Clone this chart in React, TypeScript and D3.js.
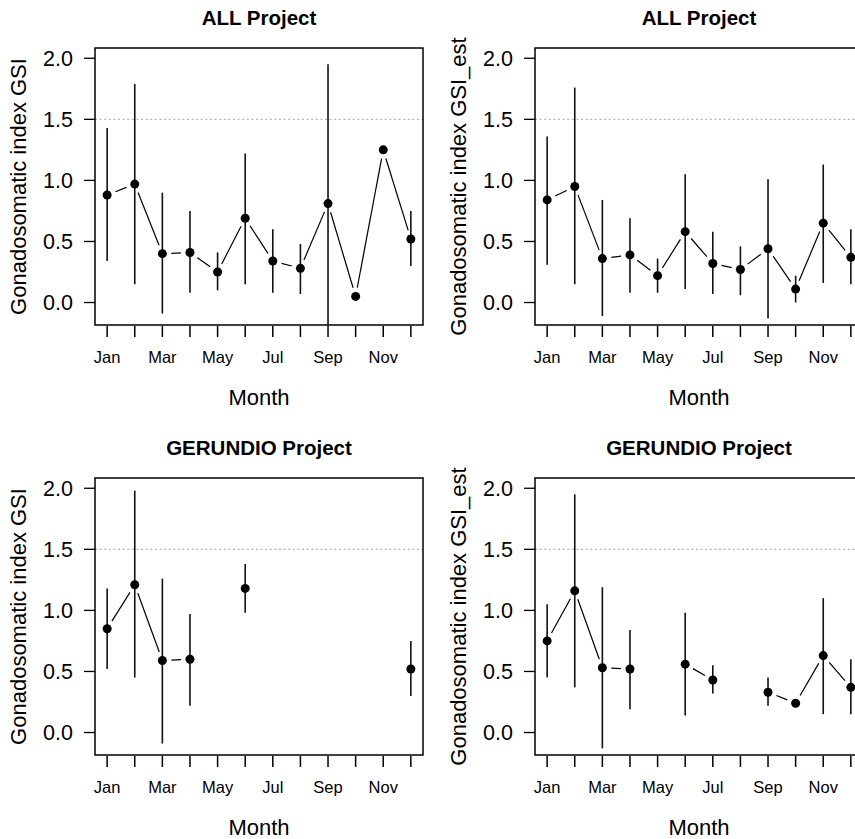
import React from 'react';
import * as d3 from 'd3';

// month labels (only odd months get a label, like R drops overlapping ones)
const months = ['Jan', 'Feb', 'Mar', 'Apr', 'May', 'Jun', 'Jul', 'Aug', 'Sep', 'Oct', 'Nov', 'Dec'];
const yTicks = [0, 0.5, 1, 1.5, 2];

// ALL project, GSI
const allGsi = [0.88, 0.97, 0.4, 0.41, 0.25, 0.69, 0.34, 0.28, 0.81, 0.05, 1.25, 0.52];
const allGsiLo = [0.34, 0.15, -0.09, 0.08, 0.1, 0.15, 0.08, 0.07, -0.33, null, null, 0.3];
const allGsiHi = [1.43, 1.79, 0.9, 0.75, 0.41, 1.22, 0.6, 0.48, 1.95, null, null, 0.75];

// ALL project, GSI_est
const allEst = [0.84, 0.95, 0.36, 0.39, 0.22, 0.58, 0.32, 0.27, 0.44, 0.11, 0.65, 0.37];
const allEstLo = [0.31, 0.15, -0.11, 0.08, 0.08, 0.11, 0.07, 0.06, -0.13, 0.0, 0.16, 0.15];
const allEstHi = [1.36, 1.76, 0.84, 0.69, 0.36, 1.05, 0.58, 0.46, 1.01, 0.22, 1.13, 0.6];

// GERUNDIO project, GSI
const gerGsi = [0.85, 1.21, 0.59, 0.6, null, 1.18, null, null, null, null, null, 0.52];
const gerGsiLo = [0.52, 0.45, -0.09, 0.22, null, 0.98, null, null, null, null, null, 0.3];
const gerGsiHi = [1.18, 1.98, 1.26, 0.97, null, 1.38, null, null, null, null, null, 0.75];

// GERUNDIO project, GSI_est
const gerEst = [0.75, 1.16, 0.53, 0.52, null, 0.56, 0.43, null, 0.33, 0.24, 0.63, 0.37];
const gerEstLo = [0.45, 0.37, -0.13, 0.19, null, 0.14, 0.32, null, 0.22, null, 0.15, 0.15];
const gerEstHi = [1.05, 1.95, 1.19, 0.84, null, 0.98, 0.55, null, 0.45, null, 1.1, 0.6];

const panels = [
  { title: 'ALL Project', ylab: 'Gonadosomatic index GSI', mean: allGsi, lo: allGsiLo, hi: allGsiHi },
  { title: 'ALL Project', ylab: 'Gonadosomatic index GSI_est', mean: allEst, lo: allEstLo, hi: allEstHi },
  { title: 'GERUNDIO Project', ylab: 'Gonadosomatic index GSI', mean: gerGsi, lo: gerGsiLo, hi: gerGsiHi },
  { title: 'GERUNDIO Project', ylab: 'Gonadosomatic index GSI_est', mean: gerEst, lo: gerEstLo, hi: gerEstHi },
];

const font = '"Liberation Sans", Arial, sans-serif';
const boxW = 328;
const boxH = 277;
const gap = 9;

const Panel = ({ p, idx }) => {
  const col = idx % 2;
  const row = Math.floor(idx / 2);
  const left = 95 + 440 * col;
  const top = 48 + 430 * row;

  const x = d3.scaleLinear().domain([0.56, 12.44]).range([0, boxW]);
  const y = d3.scaleLinear().domain([-0.184, 2.084]).range([boxH, 0]);
  const fmt = d3.format('.1f');
  const clipId = `clip-${idx}`;

  // type="b" style: segments between neighbours, with a gap around each point
  const segs = [];
  for (let i = 0; i < 11; i++) {
    if (p.mean[i] == null || p.mean[i + 1] == null) continue;
    const x1 = x(i + 1), y1 = y(p.mean[i]);
    const x2 = x(i + 2), y2 = y(p.mean[i + 1]);
    const dx = x2 - x1, dy = y2 - y1;
    const len = Math.sqrt(dx * dx + dy * dy);
    if (len <= 2 * gap) continue;
    const ux = dx / len, uy = dy / len;
    segs.push(
      <line key={i} x1={x1 + ux * gap} y1={y1 + uy * gap} x2={x2 - ux * gap} y2={y2 - uy * gap}
        stroke="#000" strokeWidth={1.2} />
    );
  }

  return (
    <g transform={`translate(${left},${top})`}>
      <defs>
        <clipPath id={clipId}>
          <rect x={0} y={0} width={boxW} height={boxH} />
        </clipPath>
      </defs>
      <text x={boxW / 2} y={-23} textAnchor="middle" fontFamily={font} fontWeight="bold" fontSize={20.5}>
        {p.title}
      </text>
      <g clipPath={`url(#${clipId})`}>
        <line x1={0} x2={boxW} y1={y(1.5)} y2={y(1.5)} stroke="#b4b4b4" strokeWidth={1.2} strokeDasharray="2,2.6" />
        {p.mean.map((m, i) =>
          m != null && p.lo[i] != null ? (
            <line key={'e' + i} x1={x(i + 1)} x2={x(i + 1)} y1={y(p.lo[i])} y2={y(p.hi[i])}
              stroke="#111" strokeWidth={1.6} />
          ) : null
        )}
        {segs}
        {p.mean.map((m, i) =>
          m != null ? <circle key={'p' + i} cx={x(i + 1)} cy={y(m)} r={4.5} fill="#000" /> : null
        )}
      </g>
      <rect x={0} y={0} width={boxW} height={boxH} fill="none" stroke="#000" strokeWidth={1.5} />
      {yTicks.map((t) => (
        <g key={t} transform={`translate(0,${y(t)})`}>
          <line x1={-11} x2={0} stroke="#000" strokeWidth={1.3} />
          <text x={-22} dy="0.36em" textAnchor="end" fontFamily={font} fontSize={21.5}>{fmt(t)}</text>
        </g>
      ))}
      {months.map((m, i) => (
        <g key={m} transform={`translate(${x(i + 1)},${boxH})`}>
          <line y1={1} y2={12} stroke="#000" strokeWidth={1.5} />
          {i % 2 === 0 ? (
            <text y={38} textAnchor="middle" fontFamily={font} fontSize={16.5}>{m}</text>
          ) : null}
        </g>
      ))}
      <text x={boxW / 2} y={boxH + 80} textAnchor="middle" fontFamily={font} fontSize={22}>Month</text>
      <text transform={`translate(-69,${boxH / 2}) rotate(-90)`} textAnchor="middle" fontFamily={font} fontSize={22}>
        {p.ylab}
      </text>
    </g>
  );
};

export default function App() {
  return (
    <svg width={855} height={839} style={{ position: 'absolute', left: 0, top: 0, background: '#fff' }}>
      <rect width={855} height={839} fill="#fff" />
      {panels.map((p, i) => (
        <Panel key={i} p={p} idx={i} />
      ))}
    </svg>
  );
}
